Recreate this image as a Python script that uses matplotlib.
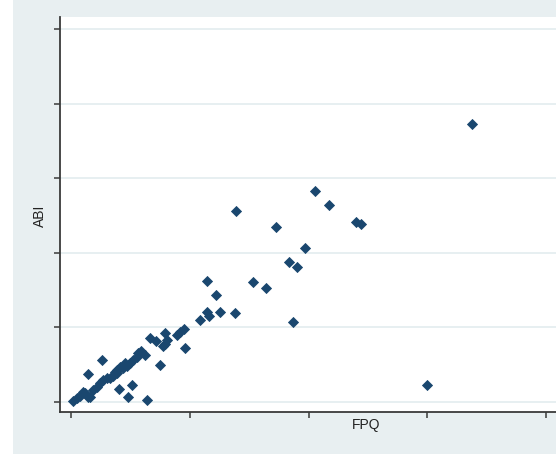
import matplotlib.pyplot as plt
from matplotlib.patches import Rectangle
import matplotlib

matplotlib.rcParams['font.family'] = 'Liberation Sans'
matplotlib.rcParams['font.size'] = 10

# FPQ vs ABI, one point per observation
fpq = [33.77, 13.89, 20.55, 21.73, 17.26, 24.00, 24.42, 19.71, 18.36, 19.03,
       15.33, 16.42, 18.69, 13.81, 11.45, 12.21, 11.45, 11.62, 12.55, 10.86,
       29.98, 9.60, 9.52, 9.18, 8.93, 7.92, 8.08, 7.92, 7.75, 7.49,
       6.65, 7.16, 6.40, 5.89, 6.23, 5.64, 5.56, 5.22, 4.97, 4.55,
       4.13, 3.87, 3.87, 4.38, 3.71, 3.03, 3.28, 2.69, 2.44, 2.19,
       1.85, 2.61, 1.43, 1.18, 1.01, 1.43, 1.60, 0.51, 0.17, 0.76,
       4.04, 5.14, 4.80, 4.72, 3.54]
abi = [37.27, 25.60, 28.28, 26.41, 23.46, 24.13, 23.86, 20.64, 18.77, 18.10,
       16.09, 15.28, 10.72, 11.93, 16.22, 14.34, 12.06, 11.53, 12.06, 10.99,
       2.28, 7.24, 9.79, 9.38, 8.98, 9.25, 8.31, 7.77, 7.51, 4.96,
       8.58, 8.18, 0.27, 6.84, 6.30, 6.57, 6.03, 5.63, 5.23, 5.23,
       4.69, 4.29, 3.89, 4.56, 4.02, 3.22, 3.22, 2.95, 2.55, 2.01,
       1.61, 5.63, 3.75, 1.21, 1.34, 0.67, 0.67, 0.54, 0.13, 0.80,
       1.74, 2.28, 0.67, 4.83, 3.49]

x_ticks = [0, 10, 20, 30, 40]
y_ticks = [0, 10, 20, 30, 40, 50]

bg = '#e8eff1'
navy = '#1a476f'

fig = plt.figure(figsize=(5.56, 4.54), dpi=100, facecolor=bg)
# white margin strip on the left
fig.patches.append(Rectangle((0, 0), 13 / 556, 1, transform=fig.transFigure,
                             facecolor='white', edgecolor='none', zorder=0))

ax = fig.add_axes([60 / 556, 1 - 412 / 454, 1 - 60 / 556, (412 - 17) / 454])
ax.set_facecolor('white')

ax.scatter(fpq, abi, marker='D', s=26, color=navy, edgecolors=navy,
           linewidths=0.6, zorder=3, clip_on=False)

ax.set_xlim(-0.93, 40.84)
ax.set_ylim(-1.34, 51.61)
ax.set_xticks(x_ticks)
ax.set_yticks(y_ticks)
ax.set_xticklabels([])
ax.set_yticklabels([])

ax.grid(axis='y', color='#e3ecef', linewidth=1.2, zorder=0)
ax.grid(axis='x', visible=False)

for side in ['top', 'right']:
    ax.spines[side].set_visible(False)
for side in ['left', 'bottom']:
    ax.spines[side].set_color('#3a3a3a')
    ax.spines[side].set_linewidth(1.3)

ax.tick_params(axis='both', direction='out', length=4.5, width=1.1, color='#3a3a3a')

fig.text(366 / 556, 1 - 425 / 454, 'FPQ', ha='center', va='center', fontsize=10, color='#222222')
fig.text(40 / 556, 1 - 216 / 454, 'ABI', ha='center', va='center', rotation=90,
         fontsize=10, color='#222222')

fig.savefig('out.png', dpi=100, facecolor=bg)
